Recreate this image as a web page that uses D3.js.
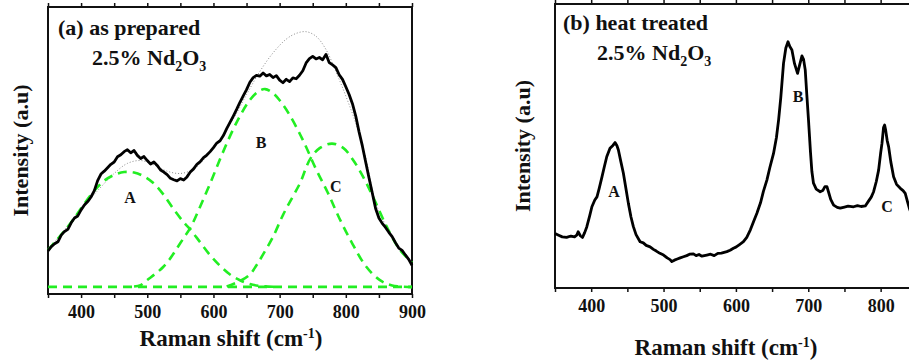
<!DOCTYPE html>
<html>
<head>
<meta charset="utf-8">
<script src="https://cdn.jsdelivr.net/npm/d3@7"></script>
<style>
  body { margin: 0; background: #fff; }
  text { font-family: "Liberation Serif", "Times New Roman", serif; font-weight: bold; fill: #111; }
</style>
</head>
<body>
<div id="chart"></div>
<script>
// Data (x = Raman shift in cm-1, y = intensity, arbitrary 0-100)

const tickValues = [350, 400, 450, 500, 550, 600, 650, 700, 750, 800, 850, 900];
const peakNames = ["A", "B", "C"];

// (a) as prepared: measured spectrum
const shiftA = [350, 355, 360, 365, 370, 375, 380, 385, 390, 395, 400, 405, 410, 415, 420, 425, 430, 435, 440, 445,
  450, 455, 460, 465, 470, 475, 480, 485, 490, 495, 500, 505, 510, 515, 520, 525, 530, 535, 540, 545,
  550, 555, 560, 565, 570, 575, 580, 585, 590, 595, 600, 605, 610, 615, 620, 625, 630, 635, 640, 645,
  650, 655, 660, 665, 670, 675, 680, 685, 690, 695, 700, 705, 710, 715, 720, 725, 730, 735, 740, 745,
  750, 755, 760, 765, 770, 775, 780, 785, 790, 795, 800, 805, 810, 815, 820, 825, 830, 835, 840, 845,
  850, 855, 860, 865, 870, 875, 880, 885, 890, 895, 900];
const intensityA = [15.0, 16.5, 17.5, 18.2, 20.5, 21.8, 22.5, 24.8, 26.5, 27.2, 29.3, 31.0, 32.2, 33.8, 36.0, 39.5, 41.8, 42.8, 44.0, 45.2,
  46.0, 47.8, 48.5, 49.6, 50.3, 49.2, 50.0, 48.3, 47.2, 47.9, 46.5, 45.3, 46.0, 44.8, 43.2, 42.5, 41.6, 40.3, 39.8, 39.4,
  40.2, 39.7, 40.8, 42.5, 43.6, 45.2, 46.1, 47.5, 48.4, 49.6, 51.0, 52.6, 53.4, 55.2, 57.6, 59.8, 62.0, 64.3, 66.8, 69.0,
  71.2, 73.8, 75.4, 76.2, 75.9, 77.0, 76.0, 76.5, 75.4, 76.1, 74.5, 73.6, 74.8, 74.0, 75.3, 75.0, 76.2, 77.8, 80.5, 82.0,
  82.8, 81.9, 82.4, 81.6, 83.5, 80.6, 79.8, 78.9, 76.4, 74.8, 72.2, 69.5, 66.3, 62.0, 56.5, 51.6, 46.0, 40.5, 35.2, 29.8,
  26.5, 24.6, 23.2, 21.5, 20.0, 17.9, 16.0, 15.2, 13.6, 12.1, 10.0];

// (a) fitted envelope (grey dotted)
const fitShift = [350, 375, 400, 425, 450, 470, 490, 510, 530, 550, 570, 590, 610, 630, 650, 670, 690, 710, 725, 740,
  755, 770, 785, 800, 815, 830, 845, 860, 880, 900];
const fitIntensity = [15.5, 22.3, 29.5, 36.0, 42.0, 45.5, 46.5, 45.0, 42.8, 42.0, 43.5, 48.0, 54.0, 61.0, 69.5, 77.5, 84.0, 88.8, 90.8, 91.4,
  89.8, 85.2, 77.5, 69.0, 59.5, 47.5, 32.0, 24.0, 16.0, 10.8];

// (a) fitted components (green dashed)
const compAShift = [350, 360, 375, 390, 405, 420, 435, 450, 465, 480, 495, 510, 525, 540, 555, 565, 580, 595, 610, 625, 640, 655, 670, 690];
const compAIntensity = [15.3, 18.0, 22.0, 26.5, 31.5, 36.0, 39.5, 41.5, 42.5, 42.3, 41.0, 38.5, 34.5, 29.5, 25.0, 22.5, 18.0, 13.5, 9.8, 6.8, 4.8, 3.5, 2.8, 2.5];
const compBShift = [480, 490, 500, 512, 524, 535, 545, 555, 565, 580, 595, 610, 625, 640, 655, 668, 678, 690, 700, 715,
  735, 755, 773, 790, 810, 830, 851, 870, 900];
const compBIntensity = [2.6, 3.1, 4.9, 7.0, 9.4, 12.5, 16.0, 19.5, 23.0, 30.5, 38.5, 47.0, 55.0, 62.0, 67.6, 70.6, 71.4, 70.0, 67.5, 62.4,
  53.7, 43.5, 35.2, 26.5, 17.5, 9.8, 4.9, 3.0, 2.4];
const compCShift = [620, 640, 655, 665, 675, 690, 705, 720, 731, 746, 761, 779, 796, 811, 826, 841, 862, 882, 900];
const compCIntensity = [2.6, 4.5, 6.8, 10.0, 13.8, 19.9, 27.5, 34.0, 38.7, 47.0, 50.9, 52.4, 50.9, 46.7, 40.9, 33.9, 23.4, 15.3, 11.0];
const baselineShift = [350, 900];
const baselineIntensity = [2.5, 2.5];

// (b) heat treated: measured spectrum
const shiftB = [350, 355, 360, 366, 372, 377, 380, 382, 385, 388, 391, 394, 398, 401, 405, 408, 411, 415, 418, 421.5,
  426, 430, 433, 435.5, 437.6, 441, 444.5, 448, 451.4, 455, 458.3, 462, 467.6, 472, 476, 481.4, 486, 490, 495, 500,
  505, 509, 511.4, 515, 519, 523, 527.5, 532, 536, 541.3, 545, 549, 553, 559.8, 565, 570, 575, 580, 587.5, 592,
  596.6, 600, 605, 610.4, 615, 620, 625, 629, 634, 638, 642.8, 647, 652, 656, 659, 662, 665.8, 669, 672, 674.5,
  677.4, 681, 685.2, 688, 691.2, 693.5, 695.8, 698, 700.3, 703, 705, 707.2, 711, 716.5, 720, 723, 725.8, 728, 731, 735,
  740, 744.2, 750, 755, 762.6, 768, 773, 778.8, 783, 787, 790.3, 794, 797.2, 800, 801.9, 804, 805.5, 807, 809, 811,
  814, 817.9, 822, 827.2, 831, 834, 837, 840, 845, 850];
const intensityB = [19.2, 18.6, 18.0, 17.8, 18.3, 18.0, 18.6, 19.8, 18.4, 17.8, 19.5, 21.6, 25.5, 28.6, 31.0, 32.1, 35.0, 39.2, 42.5, 46.2,
  49.2, 50.2, 51.2, 50.2, 48.6, 44.5, 40.4, 35.0, 29.8, 25.0, 21.6, 18.8, 16.3, 15.9, 15.0, 14.5, 13.6, 13.0, 12.2, 11.6,
  10.6, 10.0, 9.3, 9.8, 10.2, 10.6, 11.0, 11.4, 11.9, 12.0, 11.4, 11.8, 11.2, 11.6, 11.9, 11.4, 12.2, 12.3, 12.8, 13.3,
  14.0, 14.4, 15.3, 16.3, 17.8, 20.5, 23.8, 26.3, 30.0, 34.0, 38.0, 42.5, 47.4, 53.0, 59.2, 67.0, 79.1, 84.5, 86.7, 85.0,
  83.8, 79.0, 75.6, 78.5, 81.7, 80.5, 76.8, 68.0, 59.2, 48.0, 41.0, 36.9, 34.8, 33.9, 34.3, 35.7, 35.7, 33.8, 31.2, 29.2,
  28.4, 28.1, 28.5, 28.8, 28.6, 29.0, 28.7, 28.9, 30.5, 32.0, 33.9, 37.5, 41.5, 47.5, 51.0, 56.5, 57.4, 55.5, 52.0, 49.8,
  44.5, 39.2, 36.5, 35.1, 34.3, 33.3, 30.5, 27.8, 24.5, 21.5];

// Peak label anchors (shift, intensity) for each panel
const labelShiftA = [474, 672, 785];
const labelIntensityA = [31.7, 50.9, 35.5];
const labelShiftB = [431.6, 686, 809];
const labelIntensityB = [32, 65.5, 26.8];

// Layout
const W = 909, H = 362;
const panels = [
  { left: 48, right: 412, top: 7, bottom: 294, title: "(a) as prepared", titleX: 58, titleY: 35, subX: 92, subY: 65,
    yLabelX: 28, xLabelX: 231, xLabelY: 346 },
  { left: 555, right: 953, top: 4, bottom: 288, title: "(b) heat treated", titleX: 563, titleY: 30, subX: 597, subY: 60,
    yLabelX: 530, xLabelX: 726, xLabelY: 355 },
];

const svg = d3.select("#chart").append("svg").attr("width", W).attr("height", H);

const zip = (xs, ys) => xs.map((x, i) => [x, ys[i]]);

function drawPanel(p) {
  const x = d3.scaleLinear().domain([350, 900]).range([p.left, p.right]);
  const y = d3.scaleLinear().domain([0, 100]).range([p.bottom, p.top]);
  const g = svg.append("g");

  // only ticks that land inside the page
  const ticks = tickValues.filter((d) => x(d) <= W);

  // Bottom axis with labels on the hundreds
  const bottom = g.append("g")
    .attr("transform", `translate(0,${p.bottom})`)
    .call(d3.axisBottom(x).tickValues(ticks).tickSizeInner(4).tickSizeOuter(0)
      .tickFormat((d) => (d % 100 === 0 && d > 350 ? d : "")));
  bottom.selectAll("text").attr("dy", "0.95em").style("font-size", "18px")
    .style("font-family", "Liberation Serif").style("font-weight", "bold").attr("fill", "#111");
  bottom.selectAll("text").filter((d) => !(d % 100 === 0 && d > 350)).remove();

  g.append("g")
    .attr("transform", `translate(0,${p.top})`)
    .call(d3.axisTop(x).tickValues(ticks).tickSizeInner(4).tickSizeOuter(0).tickFormat(""))
    .selectAll("text").remove();
  g.selectAll(".domain").remove();
  g.selectAll(".tick line").attr("stroke", "#111").attr("stroke-width", 1.5);

  // Frame
  g.append("rect")
    .attr("x", p.left).attr("y", p.top)
    .attr("width", p.right - p.left).attr("height", p.bottom - p.top)
    .attr("fill", "none").attr("stroke", "#111").attr("stroke-width", 2);

  // Axis titles
  g.append("text")
    .attr("transform", `translate(${p.yLabelX},${(p.top + p.bottom) / 2}) rotate(-90)`)
    .attr("text-anchor", "middle").style("font-size", "22px")
    .text("Intensity (a.u)");

  const xTitle = g.append("text")
    .attr("x", p.xLabelX)
    .attr("y", p.xLabelY).attr("text-anchor", "middle").style("font-size", "23px");
  xTitle.append("tspan").text("Raman shift (cm");
  xTitle.append("tspan").attr("dy", -8).style("font-size", "14px").text("-1");
  xTitle.append("tspan").attr("dy", 8).text(")");

  // Panel titles
  g.append("text").attr("x", p.titleX).attr("y", p.titleY).style("font-size", "22px").text(p.title);
  const sub = g.append("text").attr("x", p.subX).attr("y", p.subY).style("font-size", "22px");
  sub.append("tspan").text("2.5% Nd");
  sub.append("tspan").attr("dy", 6).style("font-size", "14px").text("2");
  sub.append("tspan").attr("dy", -6).text("O");
  sub.append("tspan").attr("dy", 6).style("font-size", "14px").text("3");

  return { g, x, y };
}

// Panel (a)
{
  const { g, x, y } = drawPanel(panels[0]);
  const line = d3.line().x((d) => x(d[0])).y((d) => y(d[1]));
  const smooth = d3.line().x((d) => x(d[0])).y((d) => y(d[1])).curve(d3.curveCatmullRom);

  g.append("path").datum(zip(fitShift, fitIntensity)).attr("d", smooth)
    .attr("fill", "none").attr("stroke", "#8a8a8a").attr("stroke-width", 1).attr("stroke-dasharray", "1,2");

  [[compAShift, compAIntensity], [compBShift, compBIntensity], [compCShift, compCIntensity], [baselineShift, baselineIntensity]]
    .forEach(([xs, ys]) => {
      g.append("path").datum(zip(xs, ys)).attr("d", smooth)
        .attr("fill", "none").attr("stroke", "#22ee22").attr("stroke-width", 2.6).attr("stroke-dasharray", "9,6");
    });

  g.append("path").datum(zip(shiftA, intensityA)).attr("d", line)
    .attr("fill", "none").attr("stroke", "#000").attr("stroke-width", 2.8).attr("stroke-linejoin", "round");

  peakNames.forEach((name, i) => {
    g.append("text").attr("x", x(labelShiftA[i])).attr("y", y(labelIntensityA[i]))
      .attr("text-anchor", "middle").style("font-size", "16px").text(name);
  });
}

// Panel (b)
{
  const { g, x, y } = drawPanel(panels[1]);
  const line = d3.line().x((d) => x(d[0])).y((d) => y(d[1]));

  g.append("path").datum(zip(shiftB, intensityB)).attr("d", line)
    .attr("fill", "none").attr("stroke", "#000").attr("stroke-width", 2.8).attr("stroke-linejoin", "round");

  peakNames.forEach((name, i) => {
    g.append("text").attr("x", x(labelShiftB[i])).attr("y", y(labelIntensityB[i]))
      .attr("text-anchor", "middle").style("font-size", "16px").text(name);
  });
}
</script>
</body>
</html>
